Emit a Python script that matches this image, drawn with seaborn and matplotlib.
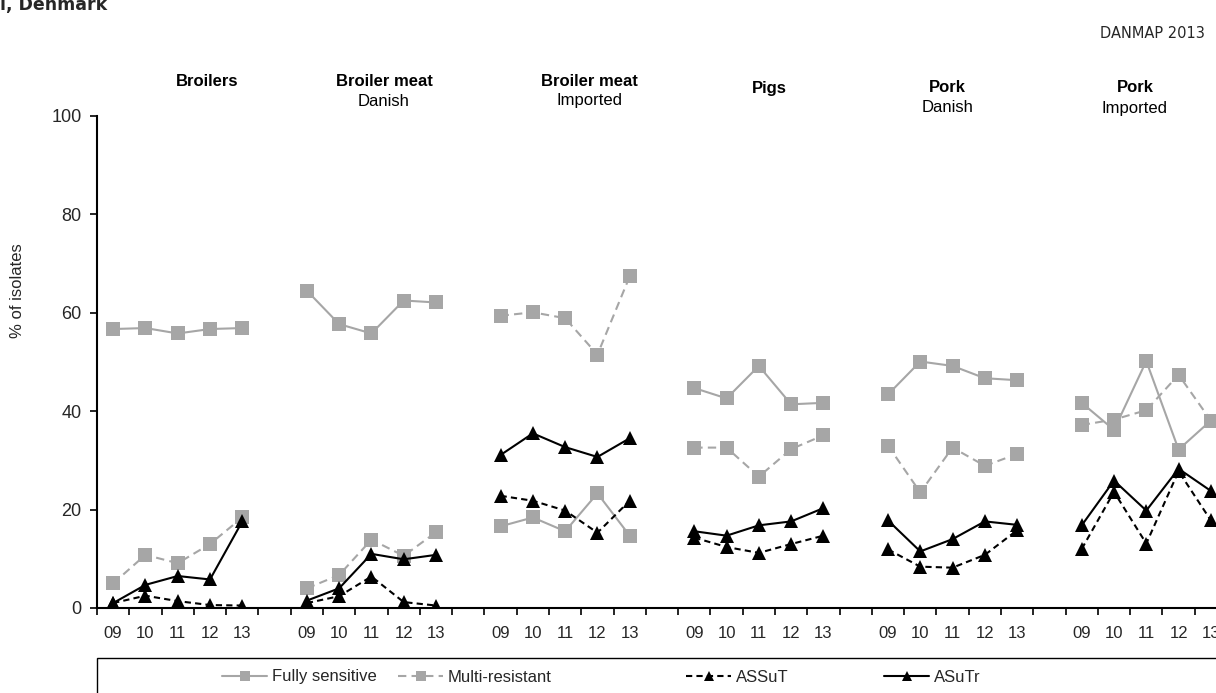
import numpy as np
import pandas as pd
import matplotlib
matplotlib.use("Agg")
import matplotlib.pyplot as plt
import matplotlib.transforms as mtransforms
from matplotlib.lines import Line2D
from matplotlib.patches import Rectangle
import seaborn as sns

# ---------------- data ----------------
years = ["09", "10", "11", "12", "13"]
group_titles = ["Broilers", "Broiler meat", "Broiler meat", "Pigs", "Pork", "Pork"]
group_subtitles = ["", "Danish", "Imported", "", "Danish", "Imported"]

fully_sensitive = [
    56.7, 56.9, 55.8, 56.7, 56.9,   # Broilers
    64.5, 57.7, 55.8, 62.5, 62.1,   # Broiler meat Danish
    16.6, 18.4, 15.6, 23.3, 14.7,   # Broiler meat Imported
    44.7, 42.6, 49.2, 41.4, 41.7,   # Pigs
    43.4, 50.1, 49.2, 46.7, 46.3,   # Pork Danish
    41.7, 36.2, 50.2, 32.2, 38.1,   # Pork Imported
]
multi_resistant = [
    5.0, 10.8, 9.1, 13.0, 18.4,
    4.0, 6.7, 13.9, 10.6, 15.4,
    59.4, 60.1, 58.9, 51.5, 67.4,
    32.6, 32.6, 26.7, 32.3, 35.1,
    33.0, 23.5, 32.6, 28.9, 31.3,
    37.2, 38.3, 40.2, 47.4, 38.1,
]
assut = [
    1.0, 2.5, 1.4, 0.6, 0.5,
    1.0, 2.4, 6.4, 1.2, 0.5,
    22.8, 21.8, 19.8, 15.3, 21.8,
    14.3, 12.4, 11.2, 13.0, 14.7,
    11.9, 8.4, 8.2, 10.8, 15.8,
    12.0, 23.6, 13.1, 27.8, 17.8,
]
asutr = [
    1.0, 4.7, 6.5, 5.8, 17.6,
    1.5, 4.0, 11.0, 9.9, 10.8,
    31.1, 35.5, 32.7, 30.7, 34.5,
    15.6, 14.7, 16.8, 17.6, 20.3,
    17.8, 11.5, 14.0, 17.6, 16.9,
    16.8, 25.9, 19.8, 28.3, 23.8,
]
series_names = ["Fully sensitive", "Multi-resistant", "ASSuT", "ASuTr"]
series_values = [fully_sensitive, multi_resistant, assut, asutr]

# ---------------- build table ----------------
n_groups = len(group_titles)
n_years = len(years)
slot = n_years + 1  # one empty category between groups
rows = []
for name, vals in zip(series_names, series_values):
    for g in range(n_groups):
        for y in range(n_years):
            rows.append({"series": name, "group": g, "x": g * slot + y,
                         "value": vals[g * n_years + y]})
df = pd.DataFrame(rows)

GREY = "#A6A6A6"
palette = {"Fully sensitive": GREY, "Multi-resistant": GREY, "ASSuT": "black", "ASuTr": "black"}
dashes = {"Fully sensitive": "", "Multi-resistant": (4, 2.5), "ASSuT": (3, 2), "ASuTr": ""}
markers = {"Fully sensitive": "s", "Multi-resistant": "s", "ASSuT": "^", "ASuTr": "^"}

sns.set_theme(style="white")
plt.rcParams["font.family"] = ["Liberation Sans", "DejaVu Sans"]

W, H = 1216, 693
fig = plt.figure(figsize=(W / 100, H / 100), dpi=100)
fig.patch.set_facecolor("white")
ax = fig.add_axes([97 / W, 1 - 608 / H, 1130 / W, 492 / H])

sns.lineplot(data=df, x="x", y="value", hue="series", style="series", units="group",
             estimator=None, sort=False, palette=palette, dashes=dashes, markers=markers,
             markersize=10, markeredgewidth=0, linewidth=1.5, legend=False, ax=ax)

total = n_groups * slot - 1
ax.set_xlim(-0.5, total - 0.5)
ax.set_ylim(0, 100)

centers = [g * slot + y for g in range(n_groups) for y in range(n_years)]
ax.set_xticks(centers)
ax.set_xticklabels(years * n_groups, fontsize=12)
ax.set_xticks(np.arange(-0.5, total, 1.0), minor=True)
ax.tick_params(axis="x", which="major", bottom=True, length=0, pad=13)
ax.tick_params(axis="x", which="minor", bottom=True, length=5, width=1.2, color="black", direction="out")
ax.set_yticks(np.arange(0, 101, 20))
ax.tick_params(axis="y", which="major", left=True, length=5, width=1.2, color="black",
               direction="out", labelsize=13, pad=6)
ax.set_xlabel("")
ax.set_ylabel("% of isolates", fontsize=12)
ax.yaxis.set_label_coords(-0.064, 0.645)

for s in ["top", "right"]:
    ax.spines[s].set_visible(False)
for s in ["left", "bottom"]:
    ax.spines[s].set_color("black")
    ax.spines[s].set_linewidth(1.5)
ax.grid(False)

# group headers
blend = mtransforms.blended_transform_factory(ax.transData, fig.transFigure)
header_x = [2.91, 8.39, 14.75, 20.33, 25.85, 31.65]
header_y = [81, 81, 81, 88, 88, 88]
for gx, gy, t, st in zip(header_x, header_y, group_titles, group_subtitles):
    ax.text(gx, 1 - gy / H, t, transform=blend, ha="center", va="center",
            fontsize=12, fontweight="bold", color="black")
    if st:
        ax.text(gx, 1 - (gy + 20) / H, st, transform=blend, ha="center", va="center",
                fontsize=12, color="black")

# top texts
fig.text(0, 1 - 10 / H, "l, Denmark", ha="left", va="baseline", fontsize=12.5,
         fontweight="bold", family="DejaVu Sans")
fig.text(1205 / W, 1 - 33 / H, "DANMAP 2013", ha="right", va="center", fontsize=10.5,
         family="DejaVu Sans")

# legend
fig.add_artist(Rectangle((97 / W, -0.1), 1.2, 0.1 + (1 - 658 / H), transform=fig.transFigure,
                         fill=False, ec="black", lw=1.0))
leg_x = [222, 398, 686, 884]
for name, lx in zip(series_names, leg_x):
    ls = dashes[name]
    handle = Line2D([], [], color=palette[name], lw=1.5,
                    linestyle=(0, ls) if ls else "-",
                    marker=markers[name], markersize=7, markeredgewidth=0)
    fig.legend(handles=[handle], labels=[name], loc="center left",
               bbox_to_anchor=(lx / W, 1 - 677 / H), frameon=False, fontsize=12,
               handlelength=2.7, handletextpad=0.3, borderpad=0, borderaxespad=0)

fig.savefig("out.png", dpi=100, facecolor="white")
